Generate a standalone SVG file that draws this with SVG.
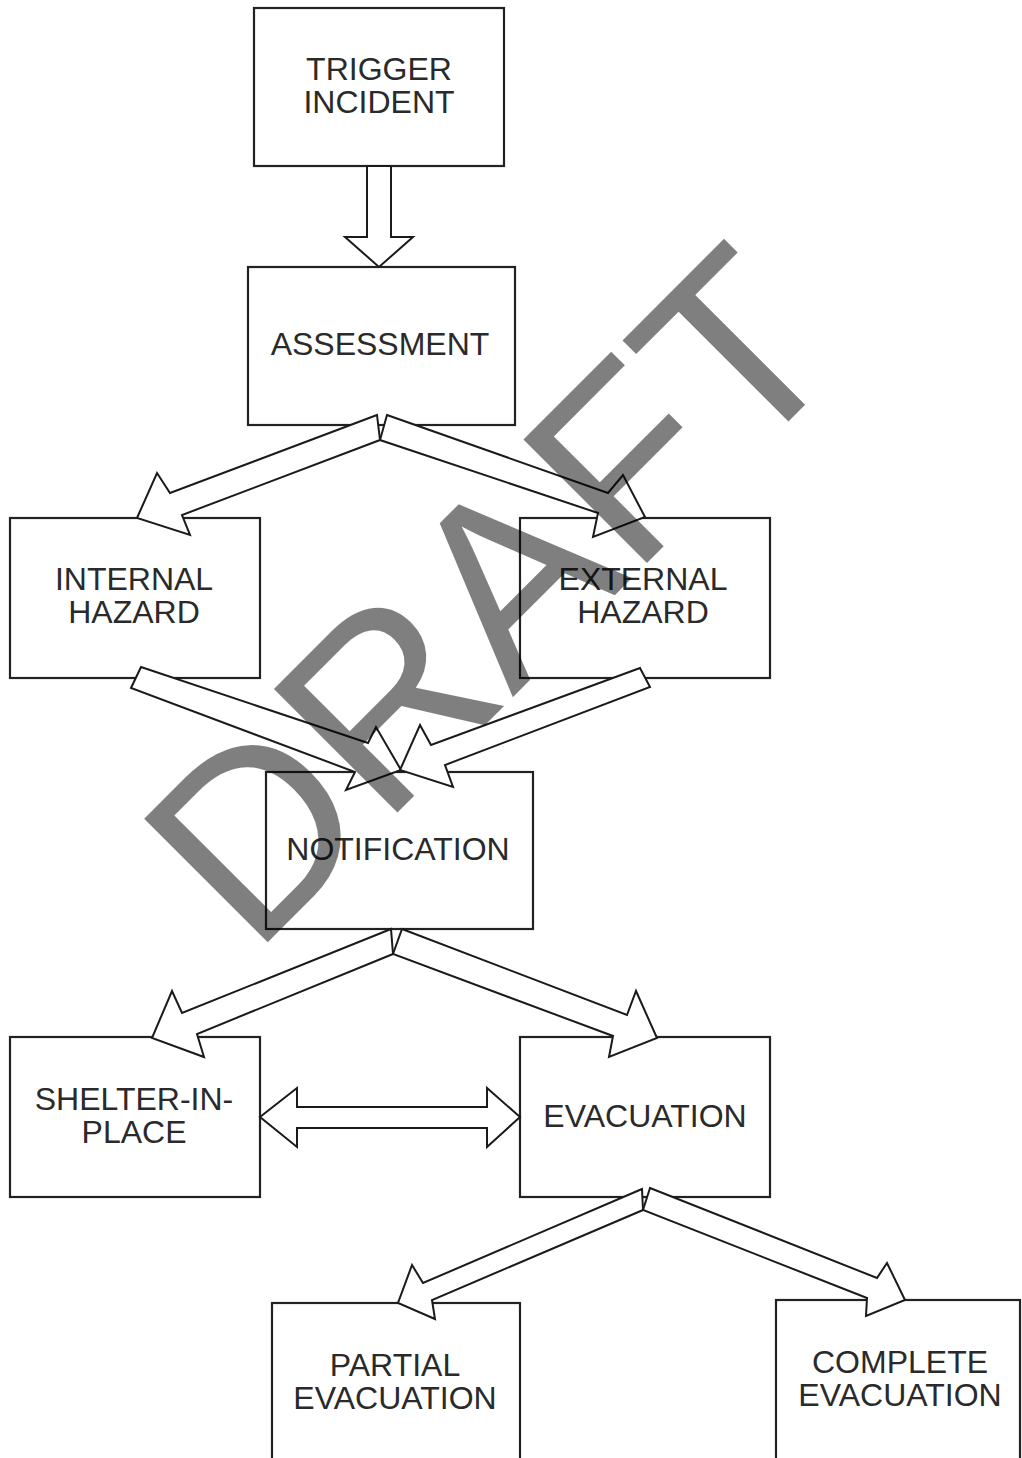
<svg xmlns="http://www.w3.org/2000/svg" width="1022" height="1458" viewBox="0 0 1022 1458">
<style>
.box{fill:#fff;stroke:#222;stroke-width:2.2}
.lbl{font-family:"Liberation Sans",Arial,sans-serif;font-size:32px;fill:#2a2a2a;text-anchor:middle}
.arr{fill:#fff;stroke:#1a1a1a;stroke-width:2;stroke-linejoin:miter}
.wm{font-family:"Liberation Sans",Arial,sans-serif;font-size:254px;fill:#000;fill-opacity:0.5}
</style>
<rect width="1022" height="1458" fill="#fff"/>
<g id="n-trigger"><rect class="box" x="254" y="8" width="250" height="158"/><text class="lbl" x="379" y="80">TRIGGER</text><text class="lbl" x="379" y="113">INCIDENT</text></g>
<g id="n-assessment"><rect class="box" x="248" y="267" width="267" height="158"/><text class="lbl" x="380" y="355">ASSESSMENT</text></g>
<g id="n-internal"><rect class="box" x="10" y="518" width="250" height="160"/><text class="lbl" x="134" y="590">INTERNAL</text><text class="lbl" x="134" y="623">HAZARD</text></g>
<g id="n-external"><rect class="box" x="520" y="518" width="250" height="160"/><text class="lbl" x="643" y="590">EXTERNAL</text><text class="lbl" x="643" y="623">HAZARD</text></g>
<g id="n-notification"><rect class="box" x="266" y="772" width="267" height="157"/><text class="lbl" x="398" y="860">NOTIFICATION</text></g>
<g id="n-shelter"><rect class="box" x="10" y="1037" width="250" height="160"/><text class="lbl" x="134" y="1110">SHELTER-IN-</text><text class="lbl" x="134" y="1143">PLACE</text></g>
<g id="n-evacuation"><rect class="box" x="520" y="1037" width="250" height="160"/><text class="lbl" x="645" y="1127">EVACUATION</text></g>
<g id="n-partial"><rect class="box" x="272" y="1303" width="248" height="170"/><text class="lbl" x="395" y="1376">PARTIAL</text><text class="lbl" x="395" y="1409">EVACUATION</text></g>
<g id="n-complete"><rect class="box" x="776" y="1300" width="244" height="170"/><text class="lbl" x="900" y="1373">COMPLETE</text><text class="lbl" x="900" y="1406">EVACUATION</text></g>
<g id="connectors">
<polygon class="arr" points="367,166 391,166 391,237 413,237 379,267 345,237 367,237"/>
<polygon class="arr" points="377,415 170,493 157,473 137,518 190,535 182,515 380,440"/>
<polygon class="arr" points="387,415 608,493 623,475 645,517 593,537 598,513 380,440"/>
<polygon class="arr" points="141,667 368,743 376,727 401,770 346,790 355,772 131,688"/>
<polygon class="arr" points="640,668 431,745 420,725 400,770 453,787 445,765 650,687"/>
<polygon class="arr" points="391,929 182,1013 172,991 152,1038 204,1057 197,1034 393,954"/>
<polygon class="arr" points="402,929 627,1015 636,991 657,1038 609,1057 613,1036 393,954"/>
<polygon class="arr" points="260,1117 297,1088 297,1107 487,1107 487,1088 520,1117 487,1147 487,1128 297,1128 297,1147"/>
<polygon class="arr" points="642,1189 423,1283 412,1265 398,1303 435,1319 432,1300 643,1210"/>
<polygon class="arr" points="650,1188 877,1278 887,1263 905,1300 866,1316 867,1298 643,1210"/>
</g>
<g id="watermark"><text class="wm" x="253" y="957" transform="rotate(-45 253 957)">DRAFT</text></g>
</svg>
